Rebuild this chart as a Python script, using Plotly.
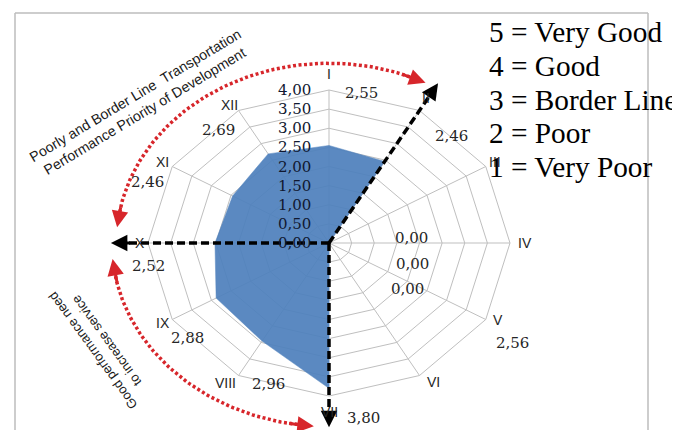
import numpy as np
import plotly.graph_objects as go

# ---------------- data ----------------
categories = ["I", "II", "III", "IV", "V", "VI", "VII", "VIII", "IX", "X", "XI", "XII"]
values = [2.55, 2.46, 0.00, 0.00, 0.00, 0.00, 3.80, 2.96, 2.88, 2.52, 2.46, 2.69]
score_labels = ["2,55", "2,46", "", "", "2,56", "", "3,80", "2,96", "2,88", "2,52", "2,46", "2,69"]
zero_label_categories = ["III", "IV", "V"]
zero_labels = ["0,00", "0,00", "0,00"]
tick_values = [0.0, 0.5, 1.0, 1.5, 2.0, 2.5, 3.0, 3.5, 4.0]
tick_labels = ["0,00", "0,50", "1,00", "1,50", "2,00", "2,50", "3,00", "3,50", "4,00"]
legend_lines = ["5 = Very Good", "4 = Good", "3 = Border Line", "2 = Poor", "1 = Very Poor"]
top_note = "Poorly and Border Line  Transportation<br>Performance Priority of Development"
bottom_note = "Good performance need<br>to increase service"
priority_axes = ["II", "X", "VII"]

# ---------------- layout constants ----------------
W, H = 680, 430
CX, CY = 321, 235          # chart centre in px
SX, SY = 45.25, 38.25      # px per unit horizontally / vertically
R_MAX = 4.0
R_LABEL = 4.42
R_ARROW = 4.82
BLUE = "#4F81BD"
RED = "#D7262B"
GRID = "#BFBFBF"

n = len(categories)
ang = np.deg2rad(np.arange(n) * 360.0 / n)


def pol(r, a_rad):
    return r * np.sin(a_rad), r * np.cos(a_rad)


def px(xp, yp):
    return xp / W, 1 - yp / H


fig = go.Figure()

# grid rings
gx, gy = [], []
for t in tick_values[1:]:
    x, y = pol(t, np.append(ang, ang[0]))
    gx += list(x) + [None]
    gy += list(y) + [None]
fig.add_trace(go.Scatter(x=gx, y=gy, mode="lines", line=dict(color=GRID, width=1),
                         hoverinfo="skip", showlegend=False))
# spokes
sx_, sy_ = [], []
for a in ang:
    x, y = pol(R_MAX, a)
    sx_ += [0, x, None]
    sy_ += [0, y, None]
fig.add_trace(go.Scatter(x=sx_, y=sy_, mode="lines", line=dict(color=GRID, width=1),
                         hoverinfo="skip", showlegend=False))

# data fill
v = np.array(values)
fx, fy = pol(np.append(v, v[0]), np.append(ang, ang[0]))
fig.add_trace(go.Scatter(x=fx, y=fy, mode="lines", fill="toself", fillcolor=BLUE,
                         line=dict(color=BLUE, width=0.5), opacity=0.93,
                         name="Score", showlegend=False))

# red dotted arcs (top and bottom)
arcs = [(-82, 24, 4.70), (263, 186, 4.80)]
for a0, a1, r in arcs:
    aa = np.deg2rad(np.linspace(a0, a1, 80))
    x, y = pol(r, aa)
    fig.add_trace(go.Scatter(x=x, y=y, mode="lines",
                             line=dict(color=RED, width=3.5, dash="3px,2.5px"),
                             hoverinfo="skip", showlegend=False))

# black dashed priority arrows
for c in priority_axes:
    a = ang[categories.index(c)]
    x, y = pol(np.array([0, R_ARROW - 0.3]), a)
    fig.add_trace(go.Scatter(x=x, y=y, mode="lines",
                             line=dict(color="black", width=3.5, dash="8px,4px"),
                             hoverinfo="skip", showlegend=False))

annotations = []
for c in priority_axes:
    a = ang[categories.index(c)]
    tx, ty = pol(R_ARROW, a)
    bx, by = pol(R_ARROW - 0.45, a)
    annotations.append(dict(x=tx, y=ty, ax=bx, ay=by, xref="x", yref="y", axref="x", ayref="y",
                            text="", showarrow=True, arrowhead=2, arrowsize=1.1,
                            arrowwidth=3, arrowcolor="black", standoff=0))

# red arrowheads on arc ends
red_heads = [(-85, -78, 4.70), (27, 20, 4.70), (265, 257, 4.80), (184, 191, 4.80)]
for a_tip, a_back, r in red_heads:
    tx, ty = pol(r, np.deg2rad(a_tip))
    bx, by = pol(r, np.deg2rad(a_back))
    annotations.append(dict(x=tx, y=ty, ax=bx, ay=by, xref="x", yref="y", axref="x", ayref="y",
                            text="", showarrow=True, arrowhead=2, arrowsize=1.1,
                            arrowwidth=3, arrowcolor=RED, standoff=0))

# radial tick labels along axis I
for t, lab in zip(tick_values, tick_labels):
    annotations.append(dict(x=0, y=t, xref="x", yref="y", text=lab, showarrow=False,
                            xanchor="right", yanchor="middle", xshift=-16,
                            font=dict(family="DejaVu Serif", size=15, color="#101830")))

# category labels
cat_nudge = [(0, 0), (-3, 1), (-7, 4), (-4, 0), (-4, -8), (4, -7),
             (0, 0), (-4, -6), (7, -5), (11, 0), (7, 4), (0, 8)]
score_off = [(32, 19), (22, 39), (0, 0), (0, 0), (10, 15), (0, 0),
             (34, 6), (39, -5), (32, 10), (19, 23), (-8, 24), (-11, 33)]
for i, c in enumerate(categories):
    x, y = pol(R_LABEL, ang[i])
    dx, dy = cat_nudge[i]
    annotations.append(dict(x=x, y=y, xref="x", yref="y", text=c, showarrow=False,
                            xanchor="center", yanchor="middle",
                            xshift=dx, yshift=-dy,
                            font=dict(family="Liberation Sans", size=14, color="#262626")))
    if score_labels[i]:
        ox, oy = score_off[i]
        annotations.append(dict(x=x, y=y, xref="x", yref="y", text=score_labels[i],
                                showarrow=False, xanchor="center", yanchor="middle",
                                xshift=ox, yshift=-oy,
                                font=dict(family="DejaVu Serif", size=15, color="#262626")))

# zero-value data labels
zero_shift = [(82, -5), (83, 21), (78, 46)]
for lab, (ox, oy) in zip(zero_labels, zero_shift):
    annotations.append(dict(x=0, y=0, xref="x", yref="y", text=lab, showarrow=False,
                            xanchor="center", yanchor="middle",
                            xshift=ox, yshift=-oy,
                            font=dict(family="DejaVu Serif", size=15, color="#262626")))

# legend of score meaning
for k, line in enumerate(legend_lines):
    xp, yp = px(479, 33 + k * 33.8)
    annotations.append(dict(x=xp, y=yp, xref="paper", yref="paper", text=line,
                            showarrow=False, xanchor="left", yanchor="middle", yshift=9,
                            font=dict(family="Liberation Serif", size=29.3, color="black")))

# rotated notes
xp, yp = px(132, 95)
annotations.append(dict(x=xp, y=yp, xref="paper", yref="paper", text=top_note,
                        showarrow=False, textangle=-31, xanchor="center", yanchor="middle",
                        font=dict(family="Liberation Sans", size=14.2, color="#1a1a1a")))
xp, yp = px(92, 338)
annotations.append(dict(x=xp, y=yp, xref="paper", yref="paper", text=bottom_note,
                        showarrow=False, textangle=-126, xanchor="center", yanchor="middle",
                        font=dict(family="Liberation Sans", size=13, color="#1a1a1a")))

# frame
frame_col = "#BDBDBD"
shapes = [
    dict(type="line", xref="paper", yref="paper", x0=7 / W, x1=7 / W, y0=0, y1=1 - 5 / H,
         line=dict(color=frame_col, width=1.5)),
    dict(type="line", xref="paper", yref="paper", x0=7 / W, x1=640 / W, y0=1 - 5 / H, y1=1 - 5 / H,
         line=dict(color=frame_col, width=1.5)),
    dict(type="line", xref="paper", yref="paper", x0=640 / W, x1=640 / W, y0=0, y1=1 - 5 / H,
         line=dict(color=frame_col, width=1.5)),
]

fig.update_layout(
    width=W, height=H,
    margin=dict(l=0, r=0, t=0, b=0),
    paper_bgcolor="white", plot_bgcolor="white",
    xaxis=dict(range=[-CX / SX, (W - CX) / SX], visible=False, fixedrange=True),
    yaxis=dict(range=[-(H - CY) / SY, CY / SY], visible=False, fixedrange=True),
    annotations=annotations,
    shapes=shapes,
    showlegend=False,
)

fig.write_html("out.html")
